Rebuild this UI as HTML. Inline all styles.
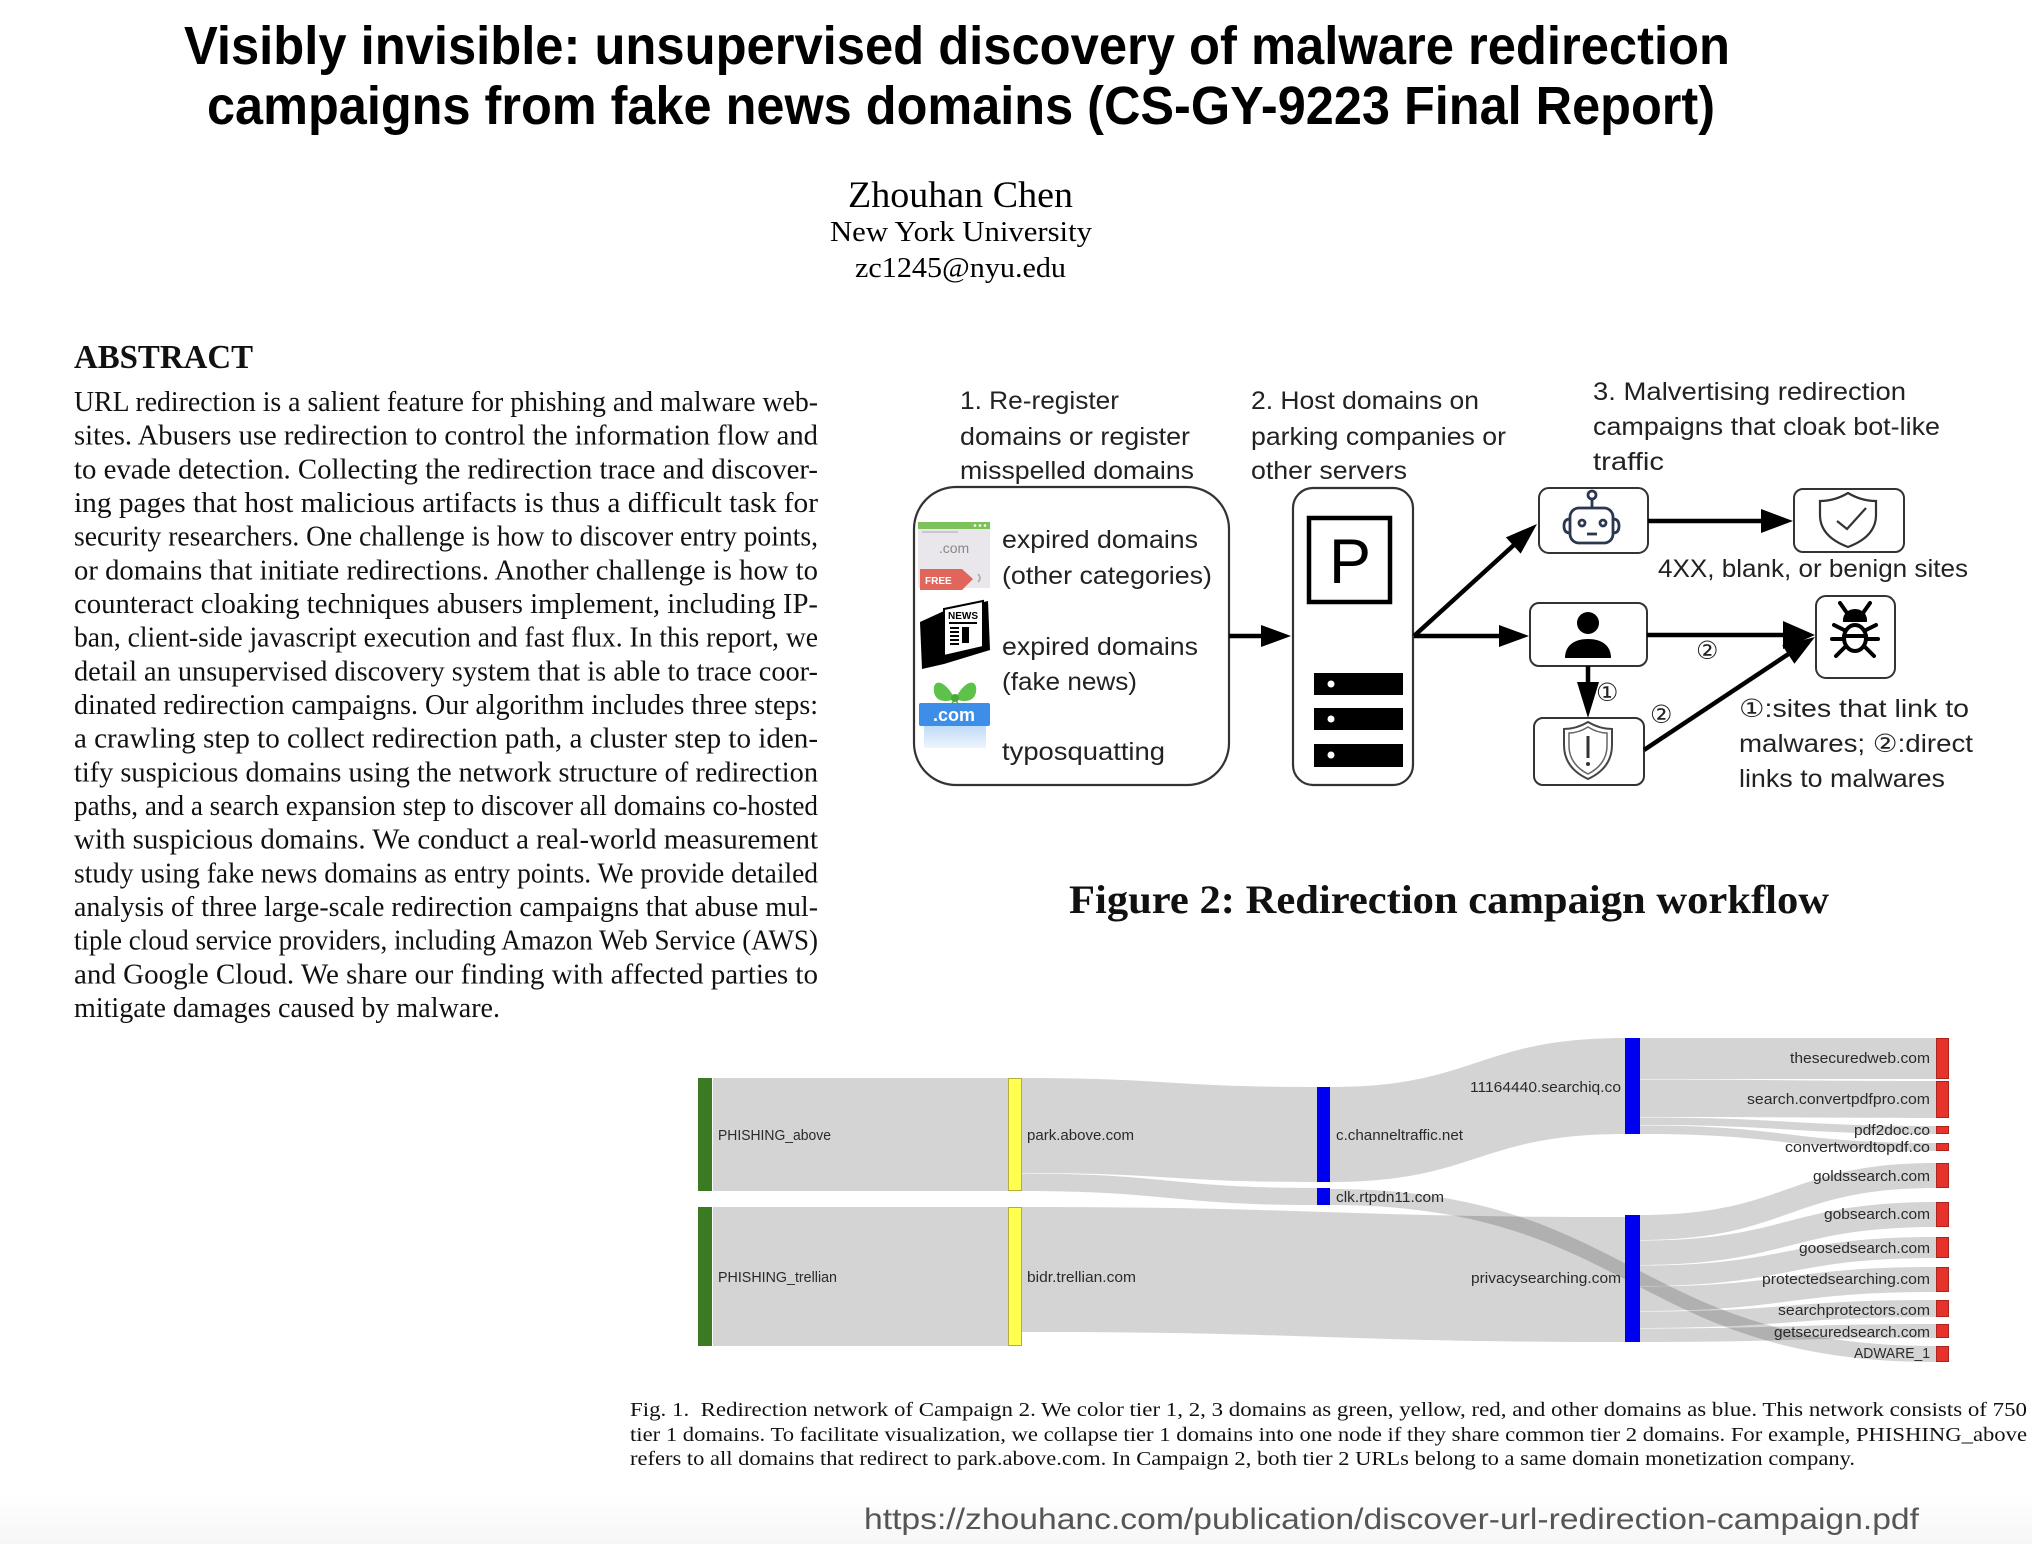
<!DOCTYPE html>
<html>
<head>
<meta charset="utf-8">
<style>
html,body{margin:0;padding:0;background:#fff;}
body{width:2032px;height:1544px;overflow:hidden;}
svg{display:block;}
.serif{font-family:"Liberation Serif","Noto Serif CJK SC",serif;}
.sans{font-family:"Liberation Sans","DejaVu Sans","Noto Sans CJK JP",sans-serif;}
</style>
</head>
<body>
<svg width="2032" height="1544" viewBox="0 0 2032 1544" xmlns="http://www.w3.org/2000/svg">
<defs>
<linearGradient id="bg" x1="0" y1="0" x2="0" y2="1">
<stop offset="0" stop-color="#ffffff"/>
<stop offset="1" stop-color="#f6f6f6"/>
</linearGradient>
<linearGradient id="gift" x1="0" y1="0" x2="0" y2="1">
<stop offset="0" stop-color="#bcd8f7"/>
<stop offset="1" stop-color="#eef5fd"/>
</linearGradient>
</defs>
<rect x="0" y="0" width="2032" height="1544" fill="#fff"/>
<rect x="0" y="1495" width="2032" height="49" fill="url(#bg)"/>

<!-- Title -->
<g class="sans" font-weight="bold" fill="#000" font-size="54">
<text x="184" y="64" textLength="1546" lengthAdjust="spacingAndGlyphs">Visibly invisible: unsupervised discovery of malware redirection</text>
<text x="207" y="124" textLength="1508" lengthAdjust="spacingAndGlyphs">campaigns from fake news domains (CS-GY-9223 Final Report)</text>
</g>

<!-- Author -->
<g class="serif" fill="#000">
<text x="848" y="207" font-size="37" textLength="225" lengthAdjust="spacingAndGlyphs">Zhouhan Chen</text>
<text x="830" y="241" font-size="29" textLength="262" lengthAdjust="spacingAndGlyphs">New York University</text>
<text x="855" y="277" font-size="29" textLength="211" lengthAdjust="spacingAndGlyphs">zc1245@nyu.edu</text>
</g>

<!-- Abstract -->
<g class="serif" fill="#111">
<text x="74" y="368" font-size="34" font-weight="bold" textLength="179" lengthAdjust="spacingAndGlyphs">ABSTRACT</text>
<g font-size="28">
<text x="74" y="411" textLength="744" lengthAdjust="spacingAndGlyphs">URL redirection is a salient feature for phishing and malware web-</text>
<text x="74" y="444.7" textLength="744" lengthAdjust="spacingAndGlyphs">sites. Abusers use redirection to control the information flow and</text>
<text x="74" y="478.3" textLength="744" lengthAdjust="spacingAndGlyphs">to evade detection. Collecting the redirection trace and discover-</text>
<text x="74" y="512" textLength="744" lengthAdjust="spacingAndGlyphs">ing pages that host malicious artifacts is thus a difficult task for</text>
<text x="74" y="545.7" textLength="744" lengthAdjust="spacingAndGlyphs">security researchers. One challenge is how to discover entry points,</text>
<text x="74" y="579.4" textLength="744" lengthAdjust="spacingAndGlyphs">or domains that initiate redirections. Another challenge is how to</text>
<text x="74" y="613" textLength="744" lengthAdjust="spacingAndGlyphs">counteract cloaking techniques abusers implement, including IP-</text>
<text x="74" y="646.7" textLength="744" lengthAdjust="spacingAndGlyphs">ban, client-side javascript execution and fast flux. In this report, we</text>
<text x="74" y="680.4" textLength="744" lengthAdjust="spacingAndGlyphs">detail an unsupervised discovery system that is able to trace coor-</text>
<text x="74" y="714" textLength="744" lengthAdjust="spacingAndGlyphs">dinated redirection campaigns. Our algorithm includes three steps:</text>
<text x="74" y="747.7" textLength="744" lengthAdjust="spacingAndGlyphs">a crawling step to collect redirection path, a cluster step to iden-</text>
<text x="74" y="781.4" textLength="744" lengthAdjust="spacingAndGlyphs">tify suspicious domains using the network structure of redirection</text>
<text x="74" y="815" textLength="744" lengthAdjust="spacingAndGlyphs">paths, and a search expansion step to discover all domains co-hosted</text>
<text x="74" y="848.7" textLength="744" lengthAdjust="spacingAndGlyphs">with suspicious domains. We conduct a real-world measurement</text>
<text x="74" y="882.4" textLength="744" lengthAdjust="spacingAndGlyphs">study using fake news domains as entry points. We provide detailed</text>
<text x="74" y="916" textLength="744" lengthAdjust="spacingAndGlyphs">analysis of three large-scale redirection campaigns that abuse mul-</text>
<text x="74" y="949.7" textLength="744" lengthAdjust="spacingAndGlyphs">tiple cloud service providers, including Amazon Web Service (AWS)</text>
<text x="74" y="983.4" textLength="744" lengthAdjust="spacingAndGlyphs">and Google Cloud. We share our finding with affected parties to</text>
<text x="74" y="1017" textLength="426" lengthAdjust="spacingAndGlyphs">mitigate damages caused by malware.</text>
</g>
</g>

<!-- Figure 2 workflow -->
<g class="sans" fill="#222" font-size="25">
<text x="960" y="409" textLength="159" lengthAdjust="spacingAndGlyphs">1. Re-register</text>
<text x="960" y="445" textLength="230" lengthAdjust="spacingAndGlyphs">domains or register</text>
<text x="960" y="479" textLength="234" lengthAdjust="spacingAndGlyphs">misspelled domains</text>
<text x="1251" y="409" textLength="228" lengthAdjust="spacingAndGlyphs">2. Host domains on</text>
<text x="1251" y="445" textLength="255" lengthAdjust="spacingAndGlyphs">parking companies or</text>
<text x="1251" y="479" textLength="156" lengthAdjust="spacingAndGlyphs">other servers</text>
<text x="1593" y="400" textLength="313" lengthAdjust="spacingAndGlyphs">3. Malvertising redirection</text>
<text x="1593" y="435" textLength="347" lengthAdjust="spacingAndGlyphs">campaigns that cloak bot-like</text>
<text x="1593" y="470" textLength="71" lengthAdjust="spacingAndGlyphs">traffic</text>

<text x="1002" y="548" textLength="196" lengthAdjust="spacingAndGlyphs">expired domains</text>
<text x="1002" y="584" textLength="210" lengthAdjust="spacingAndGlyphs">(other categories)</text>
<text x="1002" y="655" textLength="196" lengthAdjust="spacingAndGlyphs">expired domains</text>
<text x="1002" y="690" textLength="135" lengthAdjust="spacingAndGlyphs">(fake news)</text>
<text x="1002" y="760" textLength="163" lengthAdjust="spacingAndGlyphs">typosquatting</text>

<text x="1658" y="577" textLength="310" lengthAdjust="spacingAndGlyphs">4XX, blank, or benign sites</text>
<text x="1739" y="717" textLength="230" lengthAdjust="spacingAndGlyphs">①:sites that link to</text>
<text x="1739" y="752" textLength="234" lengthAdjust="spacingAndGlyphs">malwares; ②:direct</text>
<text x="1739" y="787" textLength="206" lengthAdjust="spacingAndGlyphs">links to malwares</text>

<text x="1696" y="659" font-size="25">②</text>
<text x="1596" y="701" font-size="25">①</text>
<text x="1650" y="723" font-size="25">②</text>
</g>

<!-- Box 1 -->
<rect x="914" y="487" width="315" height="298" rx="42" ry="42" fill="none" stroke="#333" stroke-width="2.2"/>
<!-- icon: browser + FREE tag -->
<rect x="918" y="522" width="72" height="66" fill="#e9e7ec"/>
<rect x="918" y="522" width="72" height="7" fill="#7cc15a"/>
<rect x="922" y="531" width="36" height="2" fill="#c9c7cc"/>
<circle cx="975" cy="525.5" r="1.3" fill="#fff"/><circle cx="980" cy="525.5" r="1.3" fill="#fff"/><circle cx="985" cy="525.5" r="1.3" fill="#fff"/>
<text x="954" y="553" font-size="14" fill="#888" text-anchor="middle" class="sans">.com</text>
<path d="M920 569 L962 569 L973 579 L962 590 L920 590 Z" fill="#e0655a"/>
<text x="925" y="584" font-size="10" fill="#fff" font-weight="bold" class="sans">FREE</text>
<path d="M978 574 q4 4 0 8" fill="none" stroke="#aaa" stroke-width="1.5"/>
<!-- icon: news -->
<polygon points="920,622 944,611 988,601 990,650 944,664 922,669" fill="#000"/>
<polygon points="944,609 983,601 983,647 944,656" fill="#fff" stroke="#000" stroke-width="2"/>
<text x="963" y="619" font-size="10" font-weight="bold" fill="#000" text-anchor="middle" class="sans">NEWS</text>
<rect x="949" y="622" width="28" height="2" fill="#000"/>
<rect x="950" y="627" width="9" height="2" fill="#000"/><rect x="962" y="627" width="7" height="16" fill="#000"/>
<rect x="950" y="631" width="9" height="2" fill="#000"/><rect x="950" y="635" width="9" height="2" fill="#000"/><rect x="950" y="639" width="9" height="2" fill="#000"/><rect x="950" y="643" width="9" height="2" fill="#000"/>
<!-- icon: gift .com -->
<path d="M955 699 C944 678 932 679 934 692 C936 703 948 702 955 699 Z" fill="#5cc24a"/>
<path d="M955 699 C966 678 978 679 976 692 C974 703 962 702 955 699 Z" fill="#5cc24a"/>
<path d="M955 698 L945 712 L950 713 Z M955 698 L965 712 L960 713 Z" fill="#4aa83a"/>
<circle cx="955" cy="698" r="4" fill="#4aa83a"/>
<rect x="924" y="724" width="62" height="24" fill="url(#gift)"/>
<rect x="919" y="703" width="71" height="23" rx="2" fill="#3d8ee8"/>
<text x="954" y="721" font-size="18" fill="#fff" font-weight="bold" text-anchor="middle" class="sans">.com</text>

<!-- Arrow box1 -> box2 -->
<line x1="1229" y1="636" x2="1263" y2="636" stroke="#000" stroke-width="4.5"/>
<polygon points="1291,636 1261,625 1261,647" fill="#000"/>

<!-- Box 2 server -->
<rect x="1293" y="488" width="120" height="297" rx="20" ry="20" fill="none" stroke="#333" stroke-width="2.2"/>
<rect x="1309" y="518" width="81" height="84" fill="none" stroke="#000" stroke-width="4.5"/>
<text x="1350" y="583" font-size="63" text-anchor="middle" fill="#000" class="sans">P</text>
<rect x="1314" y="673" width="89" height="22" fill="#000"/><circle cx="1331" cy="684" r="3.5" fill="#fff"/>
<rect x="1314" y="708" width="89" height="22" fill="#000"/><circle cx="1331" cy="719" r="3.5" fill="#fff"/>
<rect x="1314" y="744" width="89" height="23" fill="#000"/><circle cx="1331" cy="755" r="3.5" fill="#fff"/>

<!-- arrows from box2 -->
<line x1="1414" y1="636" x2="1515" y2="544" stroke="#000" stroke-width="4.5"/>
<polygon points="1537,524 1520.7,553.6 1505.9,537.4" fill="#000"/>
<line x1="1414" y1="636" x2="1502" y2="636" stroke="#000" stroke-width="4.5"/>
<polygon points="1529,636 1499,625 1499,647" fill="#000"/>

<!-- Robot box -->
<rect x="1539" y="488" width="109" height="65" rx="10" fill="#fff" stroke="#333" stroke-width="2"/>
<g fill="none" stroke="#2b3650" stroke-width="2.8">
<circle cx="1592" cy="495" r="4"/>
<line x1="1592" y1="499" x2="1592" y2="508"/>
<rect x="1570" y="508" width="43" height="35" rx="9"/>
<path d="M1570 519 q-6 0 -6 7 q0 7 6 7"/>
<path d="M1613 519 q6 0 6 7 q0 7 -6 7"/>
<circle cx="1582" cy="523" r="3"/>
<circle cx="1603" cy="523" r="3"/>
<line x1="1587" y1="534" x2="1597" y2="534"/>
</g>
<!-- arrow robot -> check -->
<line x1="1648" y1="521" x2="1765" y2="521" stroke="#000" stroke-width="4.5"/>
<polygon points="1793,521 1761,509 1761,533" fill="#000"/>
<!-- Check shield box -->
<rect x="1794" y="489" width="110" height="63" rx="9" fill="#fff" stroke="#333" stroke-width="2"/>
<path d="M1848 493 C1838 499 1828 501 1820 501 L1820 515 C1820 531 1832 541 1848 547 C1864 541 1876 531 1876 515 L1876 501 C1868 501 1858 499 1848 493 Z" fill="none" stroke="#333" stroke-width="2.2"/>
<polyline points="1837,521 1847,529 1866,508" fill="none" stroke="#333" stroke-width="2.2"/>

<!-- Person box -->
<rect x="1530" y="603" width="117" height="63" rx="9" fill="#fff" stroke="#333" stroke-width="2"/>
<circle cx="1588" cy="623" r="11" fill="#000"/>
<path d="M1565 658 C1565 645 1575 639 1588 639 C1601 639 1611 645 1611 658 Z" fill="#000"/>
<!-- arrow person -> bug -->
<line x1="1647" y1="635" x2="1786" y2="635" stroke="#000" stroke-width="4.5"/>
<polygon points="1815,635 1783,621 1783,649" fill="#000"/>
<!-- arrow person -> alert -->
<line x1="1588" y1="666" x2="1588" y2="685" stroke="#000" stroke-width="4.5"/>
<polygon points="1588,718 1577,682 1599,682" fill="#000"/>
<!-- Alert box -->
<rect x="1534" y="718" width="110" height="67" rx="9" fill="#fff" stroke="#333" stroke-width="2"/>
<path d="M1588 722 C1578 728 1570 729 1564 729 L1564 745 C1564 763 1575 773 1588 779 C1601 773 1612 763 1612 745 L1612 729 C1606 729 1598 728 1588 722 Z" fill="none" stroke="#444" stroke-width="2"/>
<path d="M1588 727 C1580 732 1573 733 1569 733 L1569 746 C1569 760 1578 769 1588 774 C1598 769 1607 760 1607 746 L1607 733 C1603 733 1596 732 1588 727 Z" fill="none" stroke="#666" stroke-width="1.5"/>
<line x1="1588" y1="736" x2="1588" y2="758" stroke="#333" stroke-width="3"/>
<circle cx="1588" cy="764" r="2" fill="#333"/>
<!-- arrow alert -> bug -->
<line x1="1644" y1="750" x2="1790" y2="653" stroke="#000" stroke-width="4.5"/>
<polygon points="1815,637 1794.4,663.8 1782.2,645.4" fill="#000"/>
<!-- Bug box -->
<rect x="1816" y="596" width="79" height="82" rx="10" fill="#fff" stroke="#333" stroke-width="2"/>
<g stroke="#000" stroke-width="4" fill="none" stroke-linecap="round">
<line x1="1840" y1="603" x2="1847" y2="613"/>
<line x1="1870" y1="603" x2="1863" y2="613"/>
<path d="M1845 620 A10 9 0 0 1 1865 620 Z" fill="#000"/>
<ellipse cx="1855" cy="638" rx="11" ry="13"/>
<line x1="1844" y1="636" x2="1866" y2="636"/>
<line x1="1844" y1="630" x2="1834" y2="625"/>
<line x1="1866" y1="630" x2="1876" y2="625"/>
<line x1="1844" y1="639" x2="1832" y2="639"/>
<line x1="1866" y1="639" x2="1878" y2="639"/>
<line x1="1845" y1="647" x2="1836" y2="656"/>
<line x1="1865" y1="647" x2="1874" y2="656"/>
</g>

<!-- Figure 2 caption -->
<text x="1069" y="913" font-size="40" font-weight="bold" fill="#111" class="serif" textLength="760" lengthAdjust="spacingAndGlyphs">Figure 2: Redirection campaign workflow</text>

<!-- Sankey flows -->
<g fill="#000" fill-opacity="0.17">
<path d="M713 1078 L1008 1078 L1008 1191 L713 1191 Z"/>
<path d="M713 1207 L1008 1207 L1008 1346 L713 1346 Z"/>
<path d="M1022 1078 C1169 1078 1169 1087 1317 1087 L1317 1182 C1169 1182 1169 1173 1022 1173 Z"/>
<path d="M1022 1173.5 C1169 1173.5 1169 1188 1317 1188 L1317 1205 C1169 1205 1169 1191 1022 1191 Z"/>
<path d="M1022 1207 C1323 1207 1323 1217 1625 1217 L1625 1342 C1323 1342 1323 1332 1022 1332 Z"/>
<path d="M1330 1189 C1633 1189 1633 1346 1936 1346 L1936 1362 C1633 1362 1633 1205 1330 1205 Z"/>
<path d="M1330 1087 C1477 1087 1477 1038 1625 1038 L1625 1134 C1477 1134 1477 1182 1330 1182 Z"/>
<path d="M1640 1038 C1788 1038 1788 1038 1936 1038 L1936 1079 C1788 1079 1788 1079 1640 1079 Z"/>
<path d="M1640 1079.5 C1788 1079.5 1788 1081 1936 1081 L1936 1118 C1788 1118 1788 1117 1640 1117 Z"/>
<path d="M1640 1117.5 C1788 1117.5 1788 1126 1936 1126 L1936 1134 C1788 1134 1788 1125 1640 1125 Z"/>
<path d="M1640 1125.5 C1788 1125.5 1788 1143 1936 1143 L1936 1151 C1788 1151 1788 1134 1640 1134 Z"/>
<path d="M1640 1215 C1788 1215 1788 1163 1936 1163 L1936 1188 C1788 1188 1788 1240 1640 1240 Z"/>
<path d="M1640 1240.5 C1788 1240.5 1788 1202 1936 1202 L1936 1227 C1788 1227 1788 1265 1640 1265 Z"/>
<path d="M1640 1265.5 C1788 1265.5 1788 1237 1936 1237 L1936 1258 C1788 1258 1788 1286 1640 1286 Z"/>
<path d="M1640 1286.5 C1788 1286.5 1788 1267 1936 1267 L1936 1292 C1788 1292 1788 1311 1640 1311 Z"/>
<path d="M1640 1311.5 C1788 1311.5 1788 1300 1936 1300 L1936 1317 C1788 1317 1788 1328 1640 1328 Z"/>
<path d="M1640 1328.5 C1788 1328.5 1788 1324 1936 1324 L1936 1338 C1788 1338 1788 1342 1640 1342 Z"/>
</g>

<!-- Sankey nodes -->
<rect x="698" y="1078" width="14" height="113" fill="#3a7a22"/>
<rect x="698" y="1207" width="14" height="139" fill="#3a7a22"/>
<rect x="1008.5" y="1078.5" width="13" height="112" fill="#ffff4f" stroke="#b5ad3a" stroke-width="1"/>
<rect x="1008.5" y="1207.5" width="13" height="138" fill="#ffff4f" stroke="#b5ad3a" stroke-width="1"/>
<rect x="1317" y="1087" width="13" height="95" fill="#0000f0"/>
<rect x="1317" y="1188" width="13" height="17" fill="#0000f0"/>
<rect x="1625" y="1038" width="15" height="96" fill="#0000f0"/>
<rect x="1625" y="1215" width="15" height="127" fill="#0000f0"/>
<g fill="#e5322a" stroke="#b0231c" stroke-width="1">
<rect x="1936.5" y="1038.5" width="12" height="40"/>
<rect x="1936.5" y="1081.5" width="12" height="36"/>
<rect x="1936.5" y="1126.5" width="12" height="7"/>
<rect x="1936.5" y="1143.5" width="12" height="7"/>
<rect x="1936.5" y="1163.5" width="12" height="24"/>
<rect x="1936.5" y="1202.5" width="12" height="24"/>
<rect x="1936.5" y="1237.5" width="12" height="20"/>
<rect x="1936.5" y="1267.5" width="12" height="24"/>
<rect x="1936.5" y="1300.5" width="12" height="16"/>
<rect x="1936.5" y="1324.5" width="12" height="13"/>
<rect x="1936.5" y="1346.5" width="12" height="15"/>
</g>

<!-- Sankey labels -->
<g class="sans" font-size="14.5" fill="#2a2a2a">
<text x="718" y="1140" textLength="113" lengthAdjust="spacingAndGlyphs">PHISHING_above</text>
<text x="1027" y="1140" textLength="107" lengthAdjust="spacingAndGlyphs">park.above.com</text>
<text x="718" y="1282" textLength="119" lengthAdjust="spacingAndGlyphs">PHISHING_trellian</text>
<text x="1027" y="1282" textLength="109" lengthAdjust="spacingAndGlyphs">bidr.trellian.com</text>
<text x="1336" y="1140" textLength="127" lengthAdjust="spacingAndGlyphs">c.channeltraffic.net</text>
<text x="1336" y="1202" textLength="108" lengthAdjust="spacingAndGlyphs">clk.rtpdn11.com</text>
<text x="1470" y="1092" textLength="151" lengthAdjust="spacingAndGlyphs">11164440.searchiq.co</text>
<text x="1471" y="1283" textLength="150" lengthAdjust="spacingAndGlyphs">privacysearching.com</text>
<text x="1790" y="1063" textLength="140" lengthAdjust="spacingAndGlyphs">thesecuredweb.com</text>
<text x="1747" y="1104" textLength="183" lengthAdjust="spacingAndGlyphs">search.convertpdfpro.com</text>
<text x="1854" y="1135" textLength="76" lengthAdjust="spacingAndGlyphs">pdf2doc.co</text>
<text x="1785" y="1152" textLength="145" lengthAdjust="spacingAndGlyphs">convertwordtopdf.co</text>
<text x="1813" y="1181" textLength="117" lengthAdjust="spacingAndGlyphs">goldssearch.com</text>
<text x="1824" y="1219" textLength="106" lengthAdjust="spacingAndGlyphs">gobsearch.com</text>
<text x="1799" y="1253" textLength="131" lengthAdjust="spacingAndGlyphs">goosedsearch.com</text>
<text x="1762" y="1284" textLength="168" lengthAdjust="spacingAndGlyphs">protectedsearching.com</text>
<text x="1778" y="1315" textLength="152" lengthAdjust="spacingAndGlyphs">searchprotectors.com</text>
<text x="1774" y="1337" textLength="156" lengthAdjust="spacingAndGlyphs">getsecuredsearch.com</text>
<text x="1854" y="1358" textLength="76" lengthAdjust="spacingAndGlyphs">ADWARE_1</text>
</g>

<!-- Fig. 1 caption -->
<g class="serif" font-size="19.5" fill="#111">
<text x="630" y="1416" textLength="1397" lengthAdjust="spacingAndGlyphs">Fig. 1.&#160;&#160;Redirection network of Campaign 2. We color tier 1, 2, 3 domains as green, yellow, red, and other domains as blue. This network consists of 750</text>
<text x="630" y="1441" textLength="1397" lengthAdjust="spacingAndGlyphs">tier 1 domains. To facilitate visualization, we collapse tier 1 domains into one node if they share common tier 2 domains. For example, PHISHING_above</text>
<text x="630" y="1465" textLength="1225" lengthAdjust="spacingAndGlyphs">refers to all domains that redirect to park.above.com. In Campaign 2, both tier 2 URLs belong to a same domain monetization company.</text>
</g>

<!-- URL -->
<text x="864" y="1529" class="sans" font-size="30" fill="#555" textLength="1055" lengthAdjust="spacingAndGlyphs">https://zhouhanc.com/publication/discover-url-redirection-campaign.pdf</text>
</svg>
</body>
</html>
